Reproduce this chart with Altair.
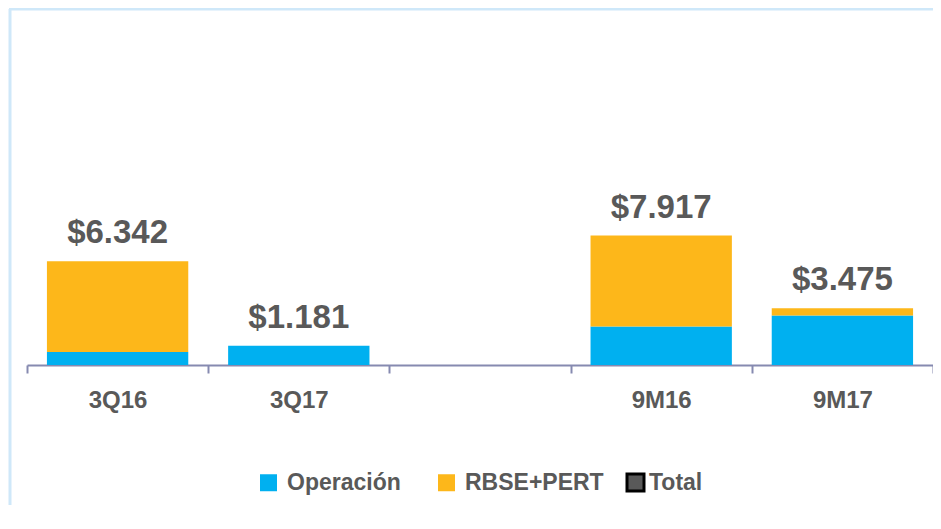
import altair as alt
import pandas as pd

# ---- data ----
categories = ["3Q16", "3Q17", " ", "9M16", "9M17"]
operacion = [800, 1181, 0, 2350, 3020]
rbse_pert = [5542, 0, 0, 5567, 455]
totals = [6342, 1181, None, 7917, 3475]
total_labels = ["$6.342", "$1.181", "", "$7.917", "$3.475"]
series_names = ["Operación", "RBSE+PERT"]
series_colors = ["#00B0F0", "#FDB71A"]
total_name = ["Total"]

rows = []
for i, c in enumerate(categories):
    rows.append({"cat": c, "serie": series_names[0], "valor": operacion[i], "orden": 0})
    rows.append({"cat": c, "serie": series_names[1], "valor": rbse_pert[i], "orden": 1})
bars_df = pd.DataFrame(rows)
tot_df = pd.DataFrame({"cat": categories, "total": totals, "label": total_labels})
tot_df = tot_df.dropna()
tot_df["clave"] = total_name[0]

FONT = "Liberation Sans"
GRAY = "#595959"
AXIS = "#868AB0"

xenc = alt.X(
    "cat:N",
    sort=categories,
    scale=alt.Scale(paddingInner=0, paddingOuter=0),
    axis=alt.Axis(
        title=None, labelAngle=0, tickBand="extent", domainColor=AXIS, domainWidth=2,
        tickColor=AXIS, tickWidth=2, tickSize=8, labelPadding=15,
        labelFont=FONT, labelFontSize=24, labelFontWeight="bold", labelColor=GRAY,
        labelBaseline="top",
    ),
)
yscale = alt.Scale(domain=[0, 20000])

bars = alt.Chart(bars_df).mark_bar(width=alt.RelativeBandSize(0.78)).encode(
    x=xenc,
    y=alt.Y("valor:Q", stack="zero", scale=yscale, axis=None),
    color=alt.Color(
        "serie:N",
        scale=alt.Scale(domain=series_names, range=series_colors),
        legend=alt.Legend(
            orient="none", legendX=230, legendY=433, direction="horizontal",
            title=None, symbolType="square", symbolSize=289, labelOffset=7,
            columnPadding=34, symbolStrokeWidth=0,
        ),
    ),
    order=alt.Order("orden:Q"),
)

labels = alt.Chart(tot_df).mark_text(
    font=FONT, fontSize=33, fontWeight="bold", baseline="alphabetic", dy=-18
).encode(
    x=alt.X("cat:N", sort=categories),
    y=alt.Y("total:Q", scale=yscale, axis=None),
    text="label:N",
    fill=alt.Fill(
        "clave:N",
        scale=alt.Scale(domain=total_name, range=[GRAY]),
        legend=alt.Legend(
            orient="none", legendX=597, legendY=433, title=None,
            symbolType="square", symbolSize=289, symbolStrokeColor="black",
            symbolStrokeWidth=3, labelOffset=2,
        ),
    ),
)

frame_df = pd.DataFrame({"k": [0]})
frame_top = alt.Chart(frame_df).mark_rule(color="#CFE8F9", strokeWidth=3).encode(
    x=alt.value(-18), x2=alt.value(920), y=alt.value(-29)
)
frame_left = alt.Chart(frame_df).mark_rule(color="#CFE8F9", strokeWidth=3).encode(
    x=alt.value(-17), y=alt.value(-29), y2=alt.value(470)
)

chart = alt.layer(frame_top, frame_left, bars, labels).properties(
    width=906, height=327,
    autosize=alt.AutoSizeParams(type="none"),
    padding={"left": 19, "top": 30, "right": 0, "bottom": 140},
).configure_view(stroke=None).configure_legend(
    labelFont=FONT, labelFontSize=23, labelFontWeight="bold", labelColor=GRAY, padding=0,
)

chart.save("out.html", embed_options={"renderer": "svg", "actions": False})
